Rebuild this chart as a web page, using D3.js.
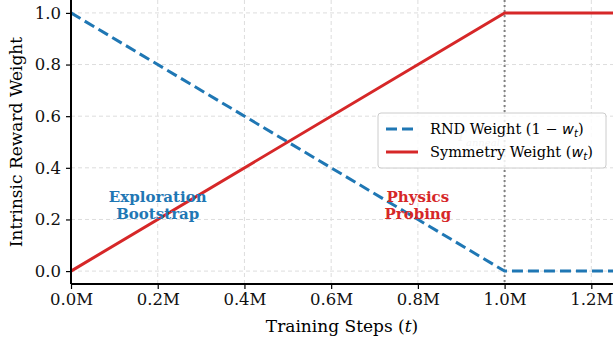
<!DOCTYPE html>
<html>
<head>
<meta charset="utf-8">
<script src="https://cdn.jsdelivr.net/npm/d3@7"></script>
<style>
  body { margin: 0; background: white; }
  svg { font-family: 'DejaVu Serif', serif; }
</style>
</head>
<body>
<div id="chart"></div>
<script>
// data (steps in millions)
const steps = [0, 1.0, 1.25]
const rndWeight = [1, 0, 0]
const symWeight = [0, 1, 1]
const xTicks = [0, 0.2, 0.4, 0.6, 0.8, 1.0, 1.2]
const yTicks = [0, 0.2, 0.4, 0.6, 0.8, 1.0]
const annealStep = 1.0

const width = 616, height = 341
const margin = { top: 0, right: 3, bottom: 57, left: 71 }

const blue = '#1f77b4', red = '#d62728'

const svg = d3.select('#chart').append('svg')
  .attr('width', width)
  .attr('height', height)

const x = d3.scaleLinear().domain([0, 1.25]).range([margin.left, width - margin.right])
const y = d3.scaleLinear().domain([-0.05, 1.05]).range([height - margin.bottom, margin.top])

// grid
svg.append('g').selectAll('line')
  .data(xTicks)
  .join('line')
  .attr('x1', d => x(d)).attr('x2', d => x(d))
  .attr('y1', y(1.05)).attr('y2', y(-0.05))
  .attr('stroke', '#dddddd').attr('stroke-width', 1).attr('stroke-dasharray', '4,3')

svg.append('g').selectAll('line')
  .data(yTicks)
  .join('line')
  .attr('x1', x(0)).attr('x2', x(1.25))
  .attr('y1', d => y(d)).attr('y2', d => y(d))
  .attr('stroke', '#dddddd').attr('stroke-width', 1).attr('stroke-dasharray', '4,3')

// anneal line
svg.append('line')
  .attr('x1', x(annealStep)).attr('x2', x(annealStep))
  .attr('y1', y(1.05)).attr('y2', y(-0.05))
  .attr('stroke', 'gray').attr('stroke-width', 2).attr('stroke-dasharray', '2,3')

// faint T_anneal label (mostly under the legend)
const tl = svg.append('text')
  .attr('x', x(annealStep) - 48).attr('y', 141)
  .attr('fill', '#b0b0b0')
  .style('font-size', '14px')
  .style('font-style', 'italic')
tl.append('tspan').text('T')
tl.append('tspan').attr('dy', 5).style('font-size', '10px').text('anneal')

const line = d3.line()
  .x(d => x(d[0]))
  .y(d => y(d[1]))

svg.append('path')
  .datum(steps.map((s, i) => [s, rndWeight[i]]))
  .attr('d', line)
  .attr('fill', 'none')
  .attr('stroke', blue)
  .attr('stroke-width', 3)
  .attr('stroke-dasharray', '11,5')

svg.append('path')
  .datum(steps.map((s, i) => [s, symWeight[i]]))
  .attr('d', line)
  .attr('fill', 'none')
  .attr('stroke', red)
  .attr('stroke-width', 3)

// axes
const xAxis = svg.append('g')
  .attr('transform', `translate(0,${y(-0.05)})`)
  .call(d3.axisBottom(x).tickValues(xTicks).tickFormat(d => d3.format('.1f')(d) + 'M').tickSizeOuter(0).tickSize(5).tickPadding(4))
const yAxis = svg.append('g')
  .attr('transform', `translate(${x(0)},0)`)
  .call(d3.axisLeft(y).tickValues(yTicks).tickFormat(d3.format('.1f')).tickSizeOuter(0).tickSize(5).tickPadding(5))

for (const ax of [xAxis, yAxis]) {
  ax.select('.domain').attr('stroke', 'black').attr('stroke-width', 2)
  ax.selectAll('.tick line').attr('stroke', 'black').attr('stroke-width', 1.2)
  ax.selectAll('.tick text')
    .attr('fill', '#111')
    .style('font-family', "'DejaVu Serif', serif")
    .style('font-size', '16.5px')
}
// extend domain lines to full plot size
xAxis.select('.domain').attr('d', `M${x(0)},0H${x(1.25)}`)
yAxis.select('.domain').attr('d', `M0,${y(-0.05)}V${y(1.05)}`)

// axis labels
const xl = svg.append('text')
  .attr('x', (x(0) + x(1.25)) / 2).attr('y', 332)
  .attr('text-anchor', 'middle')
  .style('font-size', '17px')
xl.append('tspan').text('Training Steps (')
xl.append('tspan').style('font-style', 'italic').text('t')
xl.append('tspan').text(')')

svg.append('text')
  .attr('transform', `translate(22,${(y(-0.05) + y(1.05)) / 2}) rotate(-90)`)
  .attr('text-anchor', 'middle')
  .style('font-size', '17px')
  .text('Intrinsic Reward Weight')

// phase annotations
const phases = [
  { lines: ['Exploration', 'Bootstrap'], at: 0.2, colour: blue },
  { lines: ['Physics', 'Probing'], at: 0.8, colour: red }
]
phases.forEach(p => {
  const t = svg.append('text')
    .attr('text-anchor', 'middle')
    .attr('fill', p.colour)
    .style('font-size', '15px')
    .style('font-weight', 'bold')
  p.lines.forEach((l, i) => {
    t.append('tspan')
      .attr('x', x(p.at)).attr('y', 202 + i * 17)
      .text(l)
  })
})

// legend
const lg = svg.append('g').attr('transform', 'translate(378,113)')
lg.append('rect')
  .attr('width', 228).attr('height', 55).attr('rx', 3)
  .attr('fill', 'white').attr('fill-opacity', 0.85)
  .attr('stroke', '#cccccc').attr('stroke-width', 1)

const legendItems = [
  { parts: [['RND Weight (1 \u2212 ', false], ['w', true], ['t', 'sub'], [')', false]], colour: blue, dash: '11,5' },
  { parts: [['Symmetry Weight (', false], ['w', true], ['t', 'sub'], [')', false]], colour: red, dash: null }
]
legendItems.forEach((d, i) => {
  const yy = 16 + i * 23
  lg.append('line')
    .attr('x1', 8).attr('x2', 40).attr('y1', yy).attr('y2', yy)
    .attr('stroke', d.colour).attr('stroke-width', 3)
    .attr('stroke-dasharray', d.dash)
  const t = lg.append('text')
    .attr('x', 52).attr('y', yy + 5)
    .style('font-size', '14.5px')
  d.parts.forEach(([s, style]) => {
    const ts = t.append('tspan').text(s)
    if (style === true) ts.style('font-style', 'italic').style('font-family', "'DejaVu Sans', sans-serif")
    if (style === 'sub') ts.style('font-style', 'italic').style('font-size', '10px').attr('dy', 3).style('font-family', "'DejaVu Sans', sans-serif")
    if (s === ')') ts.attr('dy', -3)
  })
})
</script>
</body>
</html>
